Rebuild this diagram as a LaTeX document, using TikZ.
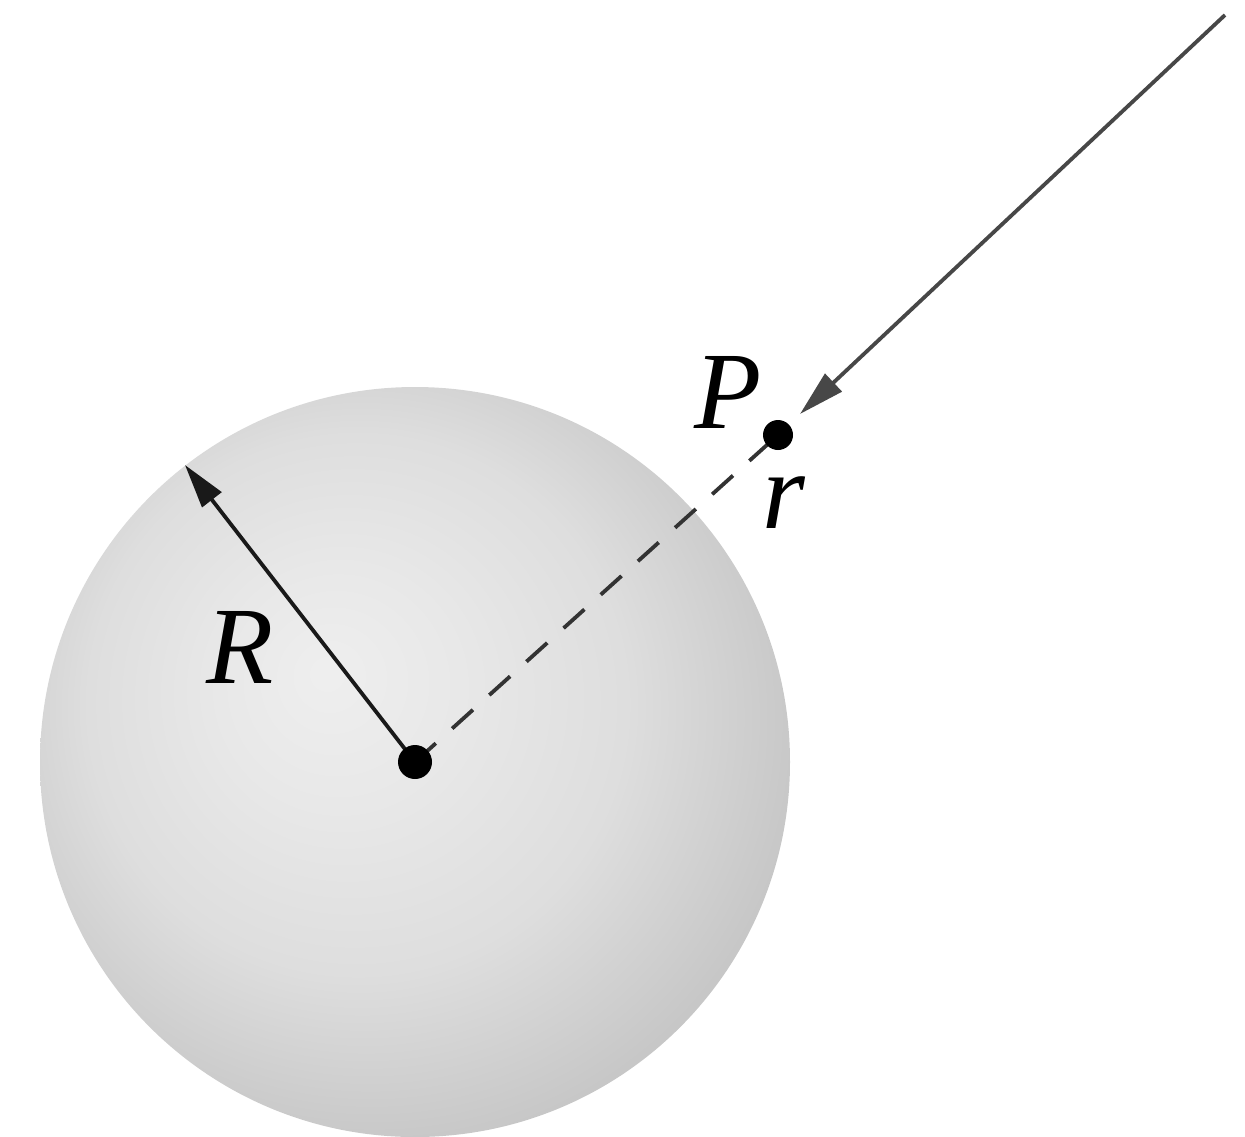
\documentclass[tikz,border=0pt]{standalone}
\usepackage{fontspec}
\setmainfont{Liberation Serif}
\usetikzlibrary{arrows.meta}
\definecolor{sA}{gray}{0.935}
\definecolor{sB}{gray}{0.91}
\definecolor{sC}{gray}{0.87}
\definecolor{sD}{gray}{0.74}
\pgfdeclareradialshading{sph}{\pgfqpoint{-6bp}{6bp}}{color(0bp)=(sA); color(8bp)=(sB); color(18bp)=(sC); color(33bp)=(sD); color(50bp)=(sD)}
\begin{document}
\begin{tikzpicture}[x=1pt,y=-1pt,
  dot/.style={circle,fill=black,inner sep=0pt,minimum size=#1},
  lbl/.style={font=\fontsize{110}{110}\selectfont\itshape,inner sep=0pt,anchor=base},
  ln/.style={line width=3.8pt,color=black!90}]
\useasboundingbox (0,0) rectangle (1245,1136);
\begin{scope}
\clip (0,0) rectangle (1245,1136);
\shade[shading=sph] (415,762) circle (375);
\end{scope}
\coordinate (O) at (415,762);
\coordinate (P) at (778,435);
\coordinate (Rtip) at (185,465);
\coordinate (far) at (1225,15);
\coordinate (Ptip) at (800,414);
\draw[ln,dashed,dash pattern=on 28pt off 22pt,color=black!80] (O) -- (P);
\draw[ln,-{Triangle[length=44pt,width=24pt]}] (O) -- (Rtip);
\draw[ln,color=black!72,-{Triangle[length=46pt,width=24pt]}] (far) -- (Ptip);
\node[dot=34pt] (o) at (O) {};
\node[dot=30pt] (p) at (P) {};
\node[lbl] (lP) at (728,428) {P};
\node[lbl] (lr) at (784,528) {r};
\node[lbl] (lR) at (240,683) {R};
\end{tikzpicture}
\end{document}
